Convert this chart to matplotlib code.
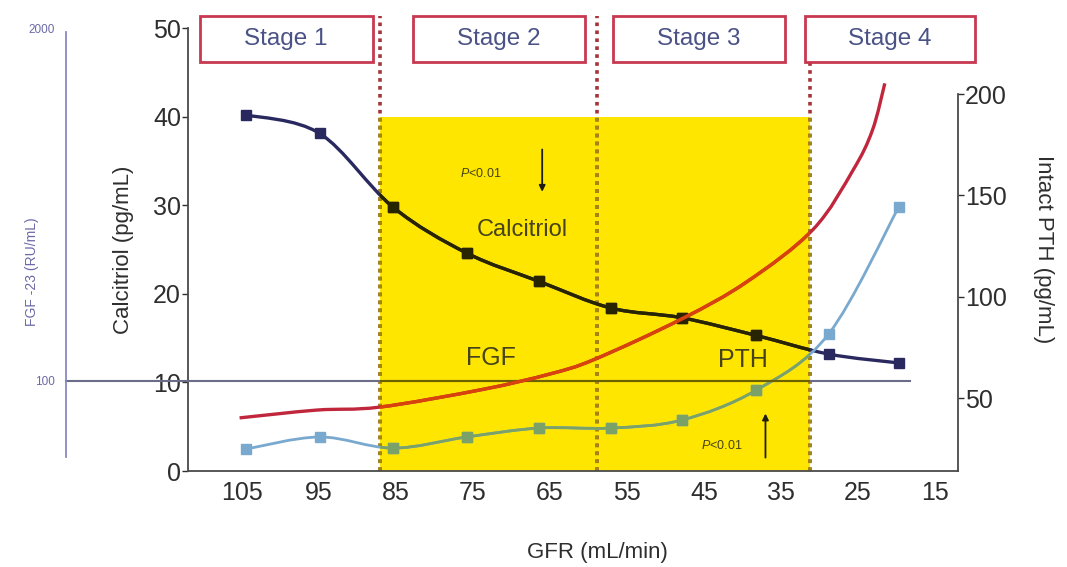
import numpy as np
import matplotlib
matplotlib.use("Agg")
import matplotlib.pyplot as plt
from matplotlib.patches import Rectangle, PathPatch
from matplotlib.path import Path
from matplotlib.colors import to_rgb

plt.rcParams['font.family'] = ['Liberation Sans', 'DejaVu Sans']
plt.rcParams['mathtext.fontset'] = 'custom'
plt.rcParams['mathtext.it'] = 'Liberation Sans:italic'
plt.rcParams['mathtext.rm'] = 'Liberation Sans'

# values
gfr = [104.5, 94.9, 85.4, 75.8, 66.4, 57.1, 47.9, 38.2, 28.8, 19.7]
calcitriol = [40.2, 38.1, 29.8, 24.6, 21.4, 18.4, 17.3, 15.3, 13.2, 12.2]
pth = [24.8, 30.8, 25.3, 30.8, 35.2, 35.2, 39.1, 53.9, 81.6, 144.2]

fgf_gfr = [105.3, 95.3, 87.1, 73.7, 65.0, 59.2, 47.9, 39.4, 30.8, 25.6, 23.1, 21.5]
fgf = [73, 78, 80, 93, 106, 120, 169, 232, 362, 600, 841, 1250]

stage_names = ['Stage 1', 'Stage 2', 'Stage 3', 'Stage 4']
stage_spans = [(110.5, 88.0), (82.8, 60.5), (56.8, 34.5), (31.9, 9.8)]
stage_lines = [87.1, 58.9, 31.2]

xticks = [105, 95, 85, 75, 65, 55, 45, 35, 25, 15]

YELLOW = '#ffe600'
NAVY = '#29285f'
LIGHTBLUE = '#79a9cf'
RED = '#c0263c'
TXT = '#46421c'
AXC = '#2e2e2e'


def mult(c, k=1.0):
    # colour as it looks under the yellow overlay (k = strength)
    a = np.array(to_rgb(c))
    b = np.array(to_rgb(YELLOW))
    return tuple(a * (1 - k) + a * b * k)


def smooth_path(x, y, logy=False):
    p = np.column_stack([np.asarray(x, float),
                         np.log10(y) if logy else np.asarray(y, float)])
    ext = np.vstack([p[0], p, p[-1]])
    verts = [p[0]]
    codes = [Path.MOVETO]
    for i in range(len(p) - 1):
        p0, p1, p2, p3 = ext[i], ext[i + 1], ext[i + 2], ext[i + 3]
        verts += [p1 + (p2 - p0) / 6, p2 - (p3 - p1) / 6, p2]
        codes += [Path.CURVE4] * 3
    v = np.array(verts)
    if logy:
        v[:, 1] = 10 ** v[:, 1]
    return Path(v, codes)


def draw_series(axis, x, y, color, inside, lw, clip, marker=None, ms=7, logy=False):
    path = smooth_path(x, y, logy)
    for c, clipped in ((color, False), (inside, True)):
        pp = PathPatch(path, facecolor='none', edgecolor=c, lw=lw, zorder=3)
        axis.add_patch(pp)
        if clipped:
            pp.set_clip_path(clip)
        if marker:
            ln, = axis.plot(x, y, marker, color=c, ms=ms, zorder=4)
            if clipped:
                ln.set_clip_path(clip)


fig = plt.figure(figsize=(10.67, 5.67), dpi=100)
ax = fig.add_axes([0.1762, 0.1693, 0.7216, 0.7813])
ax.set_xlim(112, 12)
ax.set_ylim(0, 50)

ax_p = ax.twinx()
ax_p.set_ylim(14, 232.6)
ax_f = ax.twinx()
ax_f.set_yscale('log')
ax_f.set_ylim(46.5, 1934)

# yellow band (stage 2-3)
yellow = Rectangle((stage_lines[0], 0), stage_lines[2] - stage_lines[0], 40,
                   facecolor=YELLOW, edgecolor='none', zorder=1)
ax.add_patch(yellow)

# stage dividers
for xv in stage_lines:
    ax.plot([xv, xv], [0, 51.4], color='#a3343a', lw=2.6, ls=(0, (1, 1.2)),
            clip_on=False, zorder=2)
    ax.plot([xv, xv], [0, 40], color='#a08a10', lw=2.6, ls=(0, (1, 1.2)),
            zorder=2)

# stage boxes
for name, (x0, x1) in zip(stage_names, stage_spans):
    ax.add_patch(Rectangle((x0, 46.2), x1 - x0, 5.2, facecolor='white',
                           edgecolor='#c8384f', lw=2, clip_on=False, zorder=5))
    ax.text((x0 + x1) / 2, 48.8, name, ha='center', va='center', fontsize=17.5,
            color='#4a5286', zorder=6, clip_on=False)

# FGF-23 reference line at 100 RU/mL
ax_f.axhline(100, xmin=-0.158, xmax=0.9377, color='#6b6b8a', lw=1.5,
             clip_on=False, zorder=2)
hl = ax_f.axhline(100, xmin=0, xmax=0.9377, color=mult('#6b6b8a'), lw=1.5,
                  zorder=2)
hl.set_clip_path(yellow)

draw_series(ax, gfr, calcitriol, NAVY, mult(NAVY), 2.4, yellow, marker='s', ms=7)
draw_series(ax_p, gfr, pth, LIGHTBLUE, mult(LIGHTBLUE, 0.5), 2.0, yellow,
            marker='s', ms=7)
draw_series(ax_f, fgf_gfr, fgf, RED, '#d8420c', 2.4, yellow, logy=True)

# curve names and p values
ax.text(68.6, 27.2, 'Calcitriol', ha='center', va='center', fontsize=17, color=TXT)
ax.text(72.7, 12.8, 'FGF', ha='center', va='center', fontsize=18, color=TXT)
ax.text(39.9, 12.5, 'PTH', ha='center', va='center', fontsize=18, color=TXT)
ax.text(74.0, 33.6, r'$\it{P}$<0.01', ha='center', va='center', fontsize=9, color=TXT)
ax.text(42.7, 2.9, r'$\it{P}$<0.01', ha='center', va='center', fontsize=9, color=TXT)
ax.annotate('', xy=(66.0, 31.2), xytext=(66.0, 36.6),
            arrowprops=dict(arrowstyle='-|>', color='#1e1e10', lw=1.3, mutation_scale=9))
ax.annotate('', xy=(37.0, 6.8), xytext=(37.0, 1.2),
            arrowprops=dict(arrowstyle='-|>', color='#1e1e10', lw=1.3, mutation_scale=9))

# main axes
for s in ['top', 'right']:
    ax.spines[s].set_visible(False)
for s in ['left', 'bottom']:
    ax.spines[s].set_color('#4a4a4a')
    ax.spines[s].set_linewidth(1.3)
ax.set_yticks([0, 10, 20, 30, 40, 50])
ax.set_xticks(xticks)
ax.tick_params(axis='y', direction='out', length=4, width=1, labelsize=18,
               pad=1, colors=AXC)
ax.tick_params(axis='x', length=0, pad=7, labelsize=18, labelcolor=AXC)
ax.set_ylabel('Calcitriol (pg/mL)', fontsize=16, color=AXC)
ax.yaxis.set_label_coords(-0.07, 0.5)
ax.set_xlabel('GFR (mL/min)', fontsize=16, color=AXC)
ax.xaxis.set_label_coords(0.532, -0.16)

# PTH axis (right)
for s in ['top', 'left', 'bottom']:
    ax_p.spines[s].set_visible(False)
ax_p.spines['right'].set_bounds(14, 200)
ax_p.spines['right'].set_color('#4a4a4a')
ax_p.spines['right'].set_linewidth(1.3)
ax_p.set_yticks([50, 100, 150, 200])
ax_p.tick_params(axis='y', direction='out', length=4, width=1, labelsize=18,
                 pad=1, colors=AXC)
ax_p.set_ylabel('Intact PTH (pg/mL)', fontsize=16, color=AXC,
                rotation=270, labelpad=34)

# FGF-23 axis (far left, log)
for s in ['top', 'right', 'bottom']:
    ax_f.spines[s].set_visible(False)
ax_f.spines['left'].set_visible(True)
ax_f.spines['left'].set_position(('axes', -0.158))
ax_f.spines['left'].set_bounds(52.3, 1934)
ax_f.spines['left'].set_color('#8a8abf')
ax_f.spines['left'].set_linewidth(1.3)
ax_f.yaxis.set_ticks_position('left')
ax_f.yaxis.set_label_position('left')
ax_f.set_yticks([100, 2000])
ax_f.set_yticklabels(['100', '2000'])
ax_f.yaxis.set_minor_locator(matplotlib.ticker.NullLocator())
ax_f.tick_params(axis='y', length=0, pad=8, labelsize=8.5, colors='#6a6aa8')
ax_f.set_ylabel('FGF -23 (RU/mL)', fontsize=10, color='#6a6aa8')
ax_f.yaxis.set_label_coords(-0.193, 0.45)

fig.savefig('out.png', dpi=100)
